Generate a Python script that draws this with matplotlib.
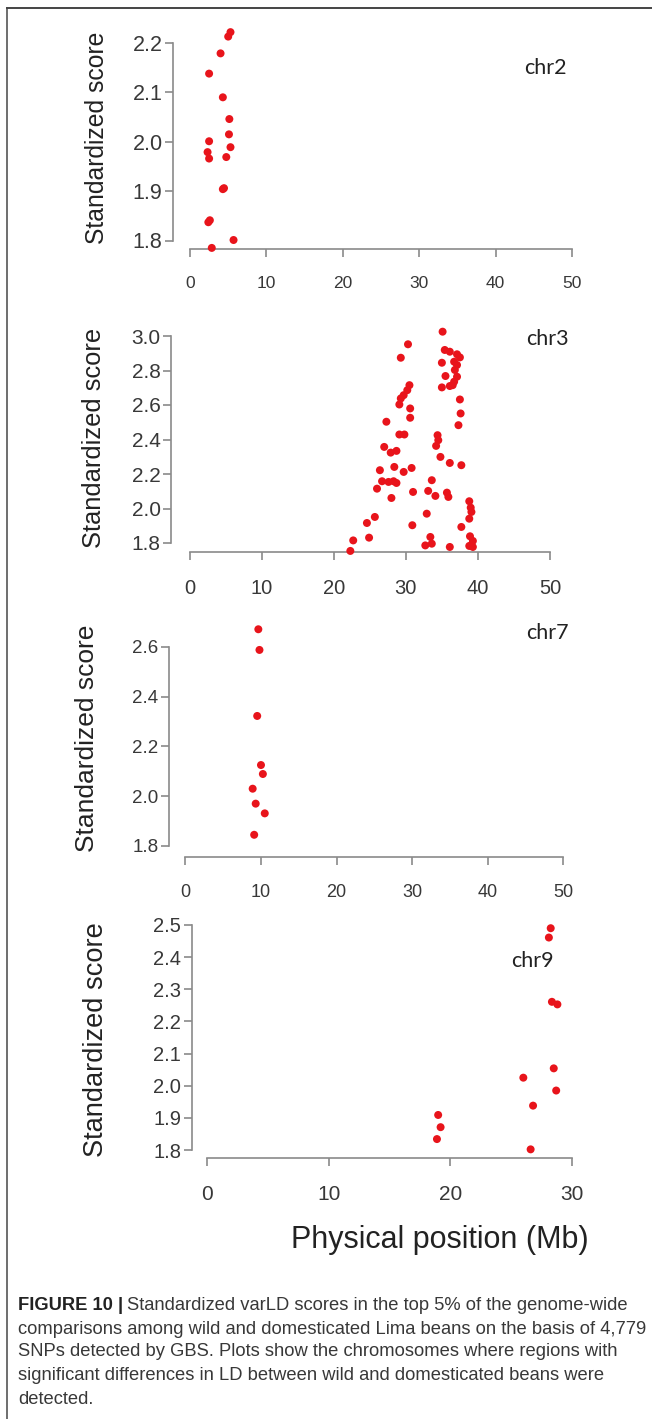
import matplotlib
matplotlib.use("Agg")
import matplotlib.pyplot as plt
from matplotlib.lines import Line2D

# varLD standardized scores, top 5%, per chromosome (position in Mb)
chr2_pos = [5.3, 5.0, 4.0, 2.5, 4.3, 5.15, 5.1, 5.3, 2.5, 2.3, 2.5, 4.75, 4.3, 4.45, 2.6, 2.4, 5.7, 2.85]
chr2_score = [2.222, 2.213, 2.179, 2.138, 2.090, 2.046, 2.015, 1.989, 2.001, 1.979, 1.966, 1.969,
              1.904, 1.906, 1.841, 1.837, 1.801, 1.785]

chr3_pos = [35.1, 30.3, 29.3, 35.4, 36.1, 37.1, 37.5, 36.7, 35.0, 37.1, 36.8, 37.1, 35.5, 36.7, 35.0,
            36.1, 36.5, 30.5, 30.2, 29.7, 29.3, 29.1, 30.6, 30.6, 37.5, 37.6, 37.3, 27.3, 29.1, 29.8,
            34.4, 34.5, 34.2, 27.0, 27.9, 28.7, 34.8, 36.1, 37.7, 26.4, 28.4, 29.7, 30.8, 33.6, 26.7,
            27.6, 28.3, 28.7, 26.0, 31.0, 33.1, 34.1, 35.7, 35.9, 28.0, 38.8, 39.0, 39.1, 38.8, 32.9,
            25.7, 24.6, 30.9, 37.7, 24.9, 22.7, 33.4, 38.9, 39.3, 32.7, 33.6, 36.1, 38.8, 39.3, 22.3]
chr3_score = [3.025, 2.952, 2.874, 2.919, 2.909, 2.894, 2.876, 2.851, 2.845, 2.832, 2.803, 2.764, 2.768,
              2.735, 2.702, 2.710, 2.715, 2.715, 2.686, 2.657, 2.638, 2.603, 2.580, 2.526, 2.632, 2.551,
              2.483, 2.503, 2.429, 2.429, 2.425, 2.396, 2.363, 2.357, 2.324, 2.334, 2.299, 2.264, 2.251,
              2.222, 2.241, 2.212, 2.235, 2.164, 2.158, 2.154, 2.158, 2.148, 2.115, 2.096, 2.102, 2.073,
              2.092, 2.067, 2.061, 2.042, 2.005, 1.980, 1.941, 1.970, 1.951, 1.916, 1.903, 1.893, 1.831,
              1.815, 1.835, 1.839, 1.812, 1.786, 1.796, 1.777, 1.783, 1.777, 1.754]

chr7_pos = [9.65, 9.8, 9.5, 10.0, 10.25, 8.9, 9.3, 10.5, 9.1]
chr7_score = [2.670, 2.587, 2.322, 2.125, 2.089, 2.030, 1.970, 1.931, 1.845]

chr9_pos = [28.25, 28.1, 28.35, 28.8, 28.5, 26.0, 28.7, 26.8, 26.6, 19.0, 19.2, 18.9]
chr9_score = [2.490, 2.461, 2.261, 2.253, 2.054, 2.025, 1.985, 1.938, 1.802, 1.909, 1.871, 1.834]

xticks_50 = [0, 10, 20, 30, 40, 50]
xticks_30 = [0, 10, 20, 30]
chr2_yticks = [1.8, 1.9, 2.0, 2.1, 2.2]
chr3_yticks = [1.8, 2.0, 2.2, 2.4, 2.6, 2.8, 3.0]
chr7_yticks = [1.8, 2.0, 2.2, 2.4, 2.6]
chr9_yticks = [1.8, 1.9, 2.0, 2.1, 2.2, 2.3, 2.4, 2.5]

caption_head = "FIGURE 10 |"
caption_lines = [
    "Standardized varLD scores in the top 5% of the genome-wide",
    "comparisons among wild and domesticated Lima beans on the basis of 4,779",
    "SNPs detected by GBS. Plots show the chromosomes where regions with",
    "significant differences in LD between wild and domesticated beans were",
    "detected.",
]

W, H = 652, 1419
GREY = "#8a8a8a"
RED = "#e8141b"
TXT = "#383838"
FONT = "Liberation Sans"


def fx(px):
    return px / W


def fy(py):
    return 1 - py / H


def add_panel(fig, pos, score, xticks, yticks, layout, xsize, ysize):
    # layout in pixels: y-axis x, x-axis y, first/last x tick, first/last y tick
    yax_x, xax_y, x_first, x_last, y_first, y_last = layout
    xpp = (xticks[-1] - xticks[0]) / (x_last - x_first)
    ypp = (yticks[-1] - yticks[0]) / (y_first - y_last)
    ax = fig.add_axes([fx(yax_x), fy(xax_y), (x_last - yax_x) / W, (xax_y - y_last) / H])
    ax.set_xlim(xticks[0] - (x_first - yax_x) * xpp, xticks[-1])
    ax.set_ylim(yticks[0] - (xax_y - y_first) * ypp, yticks[-1])
    ax.patch.set_alpha(0)

    ax.scatter(pos, score, s=33, color=RED, edgecolors="none", clip_on=False, zorder=3)

    for side in ["top", "right"]:
        ax.spines[side].set_visible(False)
    ax.spines["left"].set_bounds(yticks[0], yticks[-1])
    ax.spines["bottom"].set_bounds(xticks[0], xticks[-1])
    for side in ["left", "bottom"]:
        ax.spines[side].set_color(GREY)
        ax.spines[side].set_linewidth(1.2)

    ax.set_xticks(xticks)
    ax.set_xticklabels([str(t) for t in xticks], fontsize=xsize, family=FONT, color=TXT)
    ax.set_yticks(yticks)
    ax.set_yticklabels([f"{t:.1f}" for t in yticks], fontsize=ysize, family=FONT, color=TXT)
    ax.tick_params(axis="both", direction="out", length=5.5, width=1.2, color=GREY)
    ax.tick_params(axis="x", pad=14)
    ax.tick_params(axis="y", pad=2)
    return ax


fig = plt.figure(figsize=(W / 100, H / 100), dpi=100)

add_panel(fig, chr2_pos, chr2_score, xticks_50, chr2_yticks, (173, 249, 190, 572, 240.5, 43), 12.5, 15.5)
add_panel(fig, chr3_pos, chr3_score, xticks_50, chr3_yticks, (171, 552, 189.6, 550, 543, 336), 14.5, 15)
add_panel(fig, chr7_pos, chr7_score, xticks_50, chr7_yticks, (168.75, 856.7, 185.4, 563.3, 846, 646.7), 13, 13.5)
add_panel(fig, chr9_pos, chr9_score, xticks_30, chr9_yticks, (191.7, 1158.3, 207, 572, 1150, 925), 15, 14.5)

# y labels and chromosome names
for x, y, size in [(97, 138, 17.8), (94, 438, 18.4), (87, 738, 19.0), (96, 1040, 19.6)]:
    fig.text(fx(x), fy(y), "Standardized score", rotation=90, ha="center", va="center",
             fontsize=size, family=FONT, color="#222222")
for x, y, name in [(545, 68, "chr2"), (547, 339, "chr3"), (547, 633, "chr7"), (532, 961, "chr9")]:
    fig.text(fx(x), fy(y), name, ha="center", va="center", fontsize=15.5, family="Lato", color="#222222")

fig.text(fx(440), fy(1240), "Physical position (Mb)", ha="center", va="center",
         fontsize=22, family=FONT, color="#222222")

# caption
renderer = fig.canvas.get_renderer()
line_y = [1305, 1329, 1352, 1376, 1400]
head = fig.text(fx(18), fy(line_y[0]), caption_head, ha="left", va="center", fontsize=13.2,
                family=FONT, weight="bold", color="#222222")
head_end = head.get_window_extent(renderer).x1
for i, (y, line) in enumerate(zip(line_y, caption_lines)):
    x = (head_end + 4) / W if i == 0 else fx(18)
    fig.text(x, fy(y), line, ha="left", va="center", fontsize=13.2, family=FONT, color=TXT)

# frame around the figure
fig.add_artist(Line2D([fx(7), fx(7)], [fy(8), 0], transform=fig.transFigure, color="#555555", lw=1.2))
fig.add_artist(Line2D([fx(7), 1], [fy(8), fy(8)], transform=fig.transFigure, color="#444444", lw=1.4))

fig.savefig("out.png", dpi=100)
